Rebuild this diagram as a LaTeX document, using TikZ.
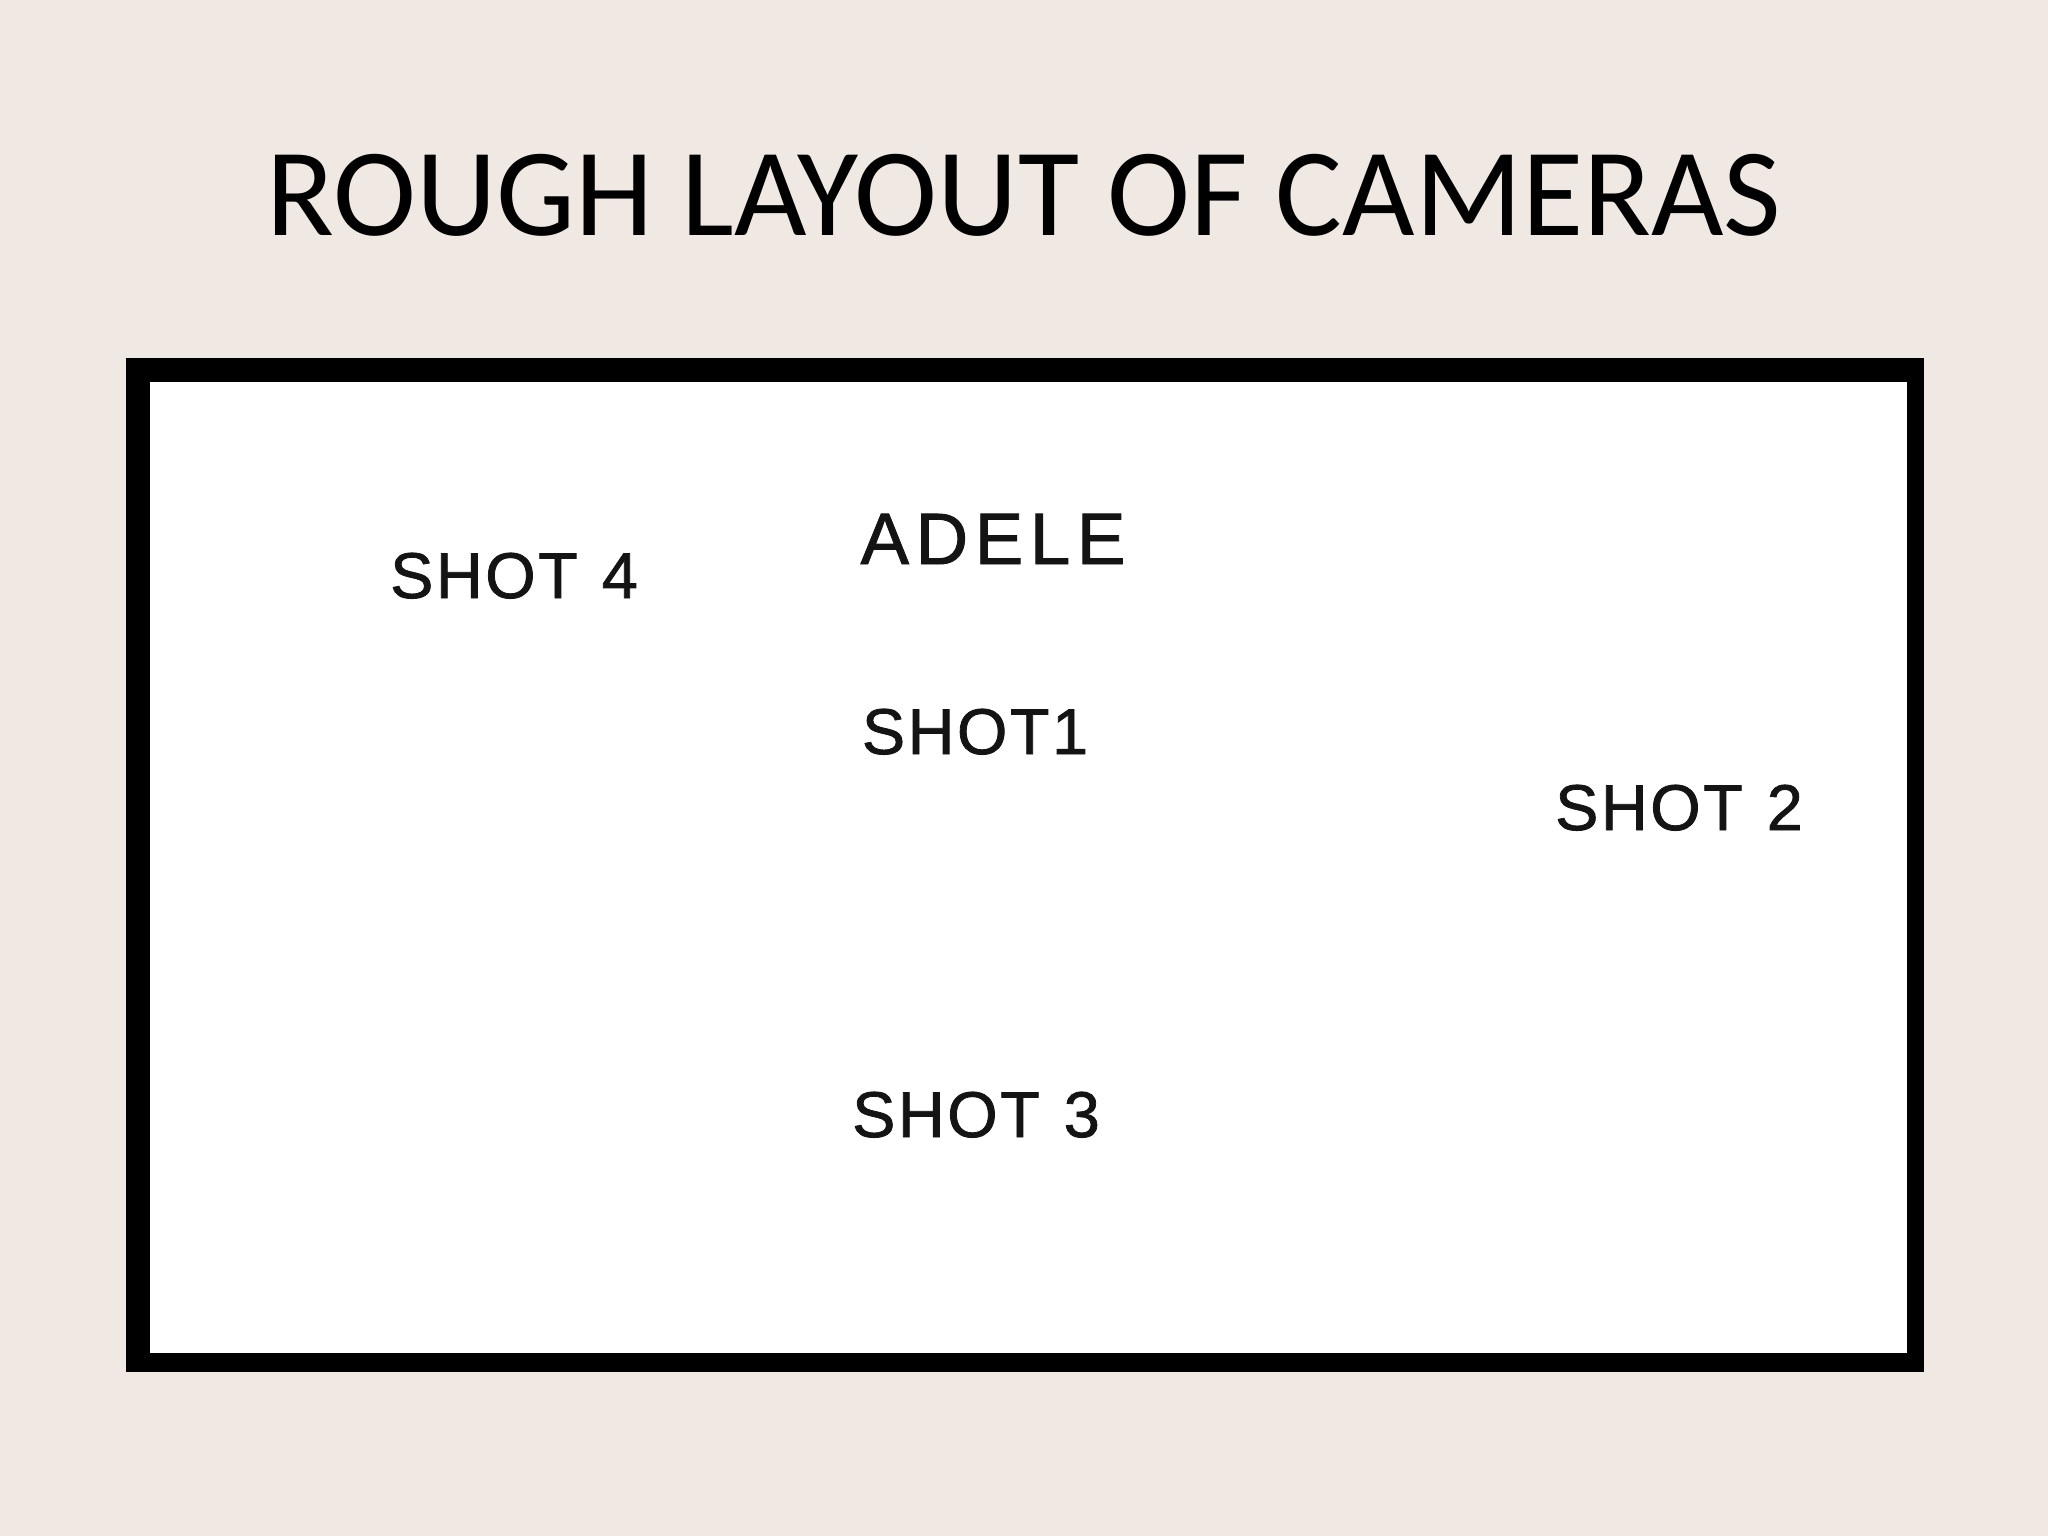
\documentclass[tikz,border=0pt]{standalone}
\usepackage{fontspec}
\setmainfont{Carlito}
\newfontfamily\labelfont[LetterSpace=4,FakeBold=1.2]{Liberation Sans}
\newfontfamily\namefont[LetterSpace=9,FakeBold=1.2]{Liberation Sans}
\definecolor{pagebg}{RGB}{240,233,227}
\definecolor{ink}{RGB}{20,20,20}
\tikzset{
  lbl/.style={anchor=base, inner sep=0pt, text=ink, font=\labelfont\fontsize{18.4}{20}\selectfont},
  namelbl/.style={anchor=base, inner sep=0pt, text=ink, font=\namefont\fontsize{20.7}{22}\selectfont},
  titlelbl/.style={anchor=base, inner sep=0pt, text=black, font=\fontsize{35.6}{40}\selectfont}
}
\begin{document}
\begin{tikzpicture}[x=0.01cm, y=-0.01cm]
  \fill[pagebg] (0,0) rectangle (2048,1536);
  \useasboundingbox (0,0) rectangle (2048,1536);
  \node[titlelbl] (title) at (1024,235) {ROUGH LAYOUT OF CAMERAS};
  \fill[black] (126,358) rectangle (1924,1372);
  \fill[white] (150,382) rectangle (1907,1353);
  \node[namelbl] (adele) at (993,564) {ADELE};
  \node[lbl] (shot4) at (514,598) {SHOT\hspace{1pt} 4};
  \node[lbl] (shot1) at (975,754) {SHOT1};
  \node[lbl] (shot2) at (1679,830) {SHOT\hspace{1pt} 2};
  \node[lbl] (shot3) at (976,1137) {SHOT\hspace{1pt} 3};
\end{tikzpicture}
\end{document}
